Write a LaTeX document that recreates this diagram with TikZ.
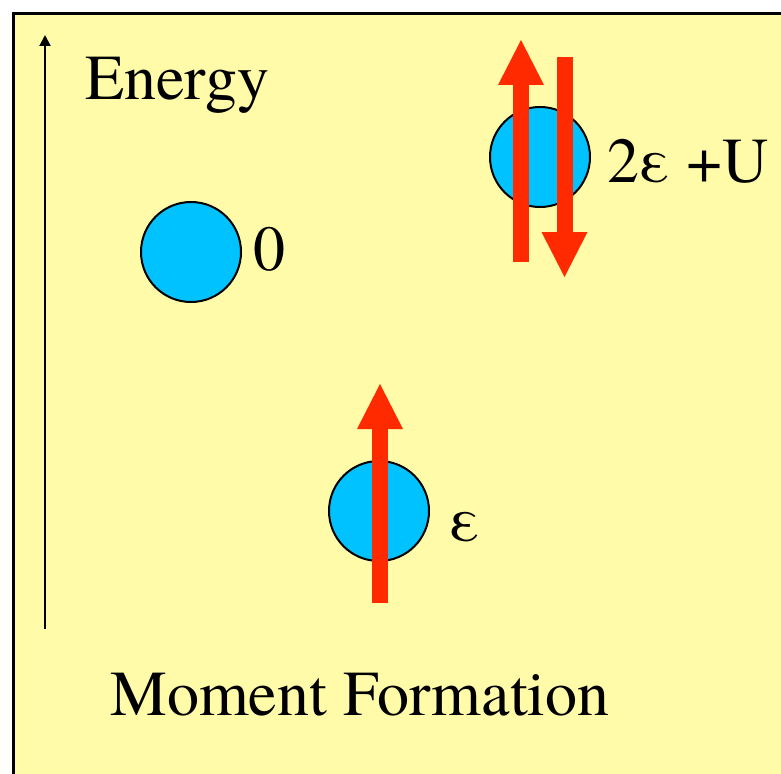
\documentclass[tikz,border=0pt]{standalone}
\usepackage{fontspec}
\setmainfont{texgyretermes}[Extension=.otf, UprightFont=*-regular, BoldFont=*-bold]
\usetikzlibrary{arrows.meta}
\definecolor{pad}{HTML}{FFFBA8}
\definecolor{site}{HTML}{00C2FF}
\definecolor{spin}{HTML}{FF2A00}
\tikzset{
  big/.style={font=\rmfamily\fontsize{64}{70}\selectfont, inner sep=0pt},
  ball/.style={circle, draw, line width=2pt, fill=site, minimum size=100pt, inner sep=0pt},
  spn/.style={draw=spin, line width=16pt, -{Triangle[width=46pt, length=45pt, line width=0pt]}}}
\begin{document}
\begin{tikzpicture}[x=1pt, y=-1pt]
\useasboundingbox (0,0) rectangle (781,773);
\fill[white] (0,0) rectangle (781,773);
\begin{scope}
\clip (0,0) rectangle (781,773);
\draw[line width=3pt, fill=pad] (13,14) rectangle (800,800);
\end{scope}
% energy axis
\coordinate (ax0) at (45,629);
\coordinate (ax1) at (45,35);
\draw[line width=2pt, -{Triangle[width=11pt, length=11pt]}] (ax0) -- (ax1);
\node[big, anchor=base west] (energy) at (85,100) {Energy};
% the three site occupations
\node[ball] (empty) at (191,252) {};
\node[ball] (double) at (540,157) {};
\node[ball] (single) at (379,511) {};
\node[big, anchor=base west] (l0) at (253,270) {0};
\node[big, anchor=base west] (l2) at (607,182) {2ε +U};
\node[big, anchor=base west] (l1) at (449,541) {ε};
% spins
\foreach \n/\xa/\ya/\yb in {up2/521/262/40, dn2/564.5/57/277, up1/380/603/384} {
  \coordinate (\n a) at (\xa,\ya);
  \coordinate (\n b) at (\xa,\yb);
  \draw[spn] (\n a) -- (\n b);}
\node[big, anchor=base west] (title) at (110,715) {Moment Formation};
\end{tikzpicture}
\end{document}
